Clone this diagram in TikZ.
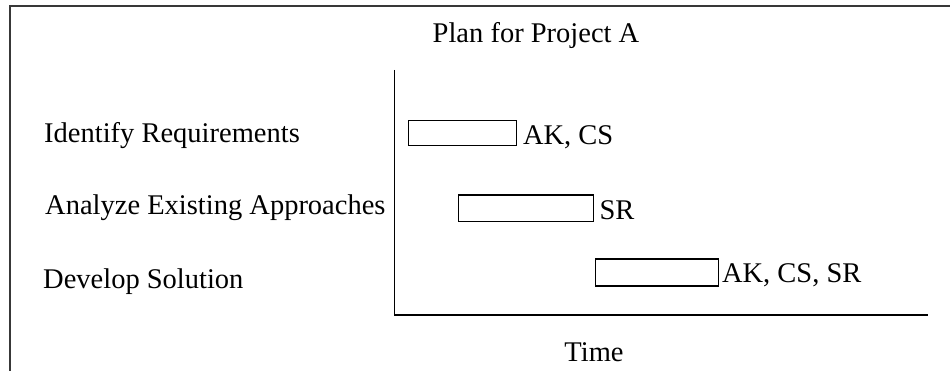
\documentclass[tikz,border=0pt]{standalone}
\usepackage{fontspec}
\setmainfont{Liberation Serif}
\begin{document}
\begin{tikzpicture}[x=1pt,y=-1pt,
  lbl/.style={inner sep=0pt,font=\fontsize{28.5}{30}\selectfont},
  bar/.style={draw=black,line width=1.3pt,fill=white,inner sep=0pt},
  axis/.style={draw=black,line width=1.3pt},
  frame/.style={draw=black!78,line width=2.4pt}]
\useasboundingbox (0,0) rectangle (950,371);
\coordinate (ftop) at (950,6);
\coordinate (fcorner) at (10,6);
\coordinate (fbot) at (10,372);
\draw[frame] (ftop) -- (fcorner) -- (fbot);
% axes
\coordinate (ytop) at (394.5,70);
\coordinate (origin) at (394.5,315);
\coordinate (xend) at (927.5,315);
\draw[axis] (ytop) -- (origin) -- (xend);
% title and axis label
\node[lbl,anchor=base] (title) at (536,43) {Plan for Project A};
\node[lbl,anchor=base] (time) at (594,361) {Time};
% task labels
\node[lbl,anchor=base west] (t1) at (44,143) {Identify Requirements};
\node[lbl,anchor=base west] (t2) at (45,215) {Analyze Existing Approaches};
\node[lbl,anchor=base west] (t3) at (43,288) {Develop Solution};
% bars
\node[bar,minimum width=108pt,minimum height=25pt,anchor=north west] (b1) at (407.5,120) {};
\node[bar,minimum width=135pt,minimum height=26.5pt,anchor=north west] (b2) at (458,194.5) {};
\node[bar,minimum width=123.5pt,minimum height=27pt,anchor=north west] (b3) at (594.5,258.5) {};
% resource labels
\node[lbl,anchor=base west] (r1) at ([xshift=6pt]b1.east |- 0,145) {AK, CS};
\node[lbl,anchor=base west] (r2) at ([xshift=5pt]b2.east |- 0,220) {SR};
\node[lbl,anchor=base west] (r3) at ([xshift=2.5pt]b3.east |- 0,283) {AK, CS, SR};
\end{tikzpicture}
\end{document}
